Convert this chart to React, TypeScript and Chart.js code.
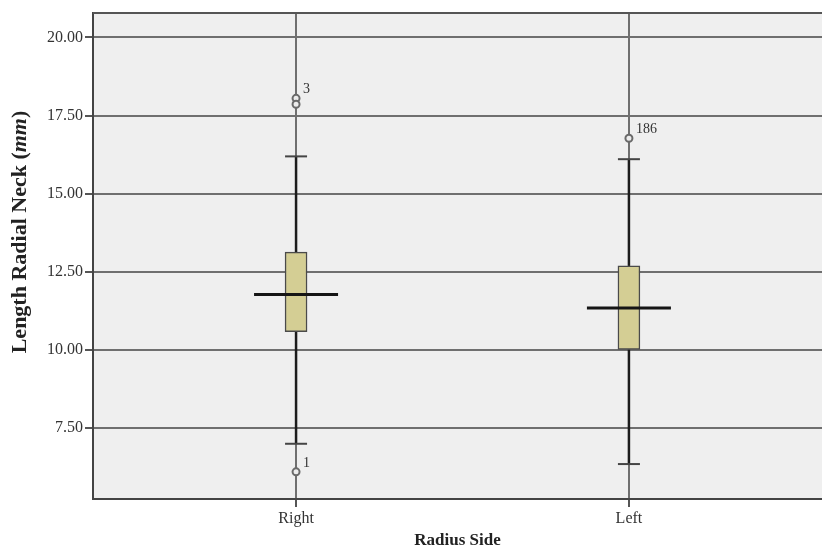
import React, { useEffect, useRef } from 'react';
import { Chart, registerables } from 'chart.js';

Chart.register(...registerables);

// ---- data ----
const categories = ['Right', 'Left'];
const q1Values = [10.57, 10.0];
const medianValues = [11.76, 11.33];
const q3Values = [13.12, 12.68];
const whiskerLowValues = [6.98, 6.33];
const whiskerHighValues = [16.19, 16.1];
const outlierValues = [[18.05, 17.86, 6.08], [16.77]];
const outlierLabels = [['3', '', '1'], ['186']];
const yTickValues = [7.5, 10, 12.5, 15, 17.5, 20];
const yAxisMin = 5.21;
const yAxisMax = 20.785;
const xAxisMin = 0.39;
const xAxisMax = 2.58;

const SERIF = '"Liberation Serif", "Times New Roman", serif';

const bgPlugin = {
  id: 'plotBg',
  beforeDraw(chart: any) {
    const { ctx, chartArea } = chart;
    ctx.save();
    ctx.fillStyle = '#efefef';
    ctx.fillRect(chartArea.left, chartArea.top, chartArea.right - chartArea.left, chartArea.bottom - chartArea.top);
    ctx.restore();
  },
  afterDraw(chart: any) {
    const { ctx, chartArea } = chart;
    ctx.save();
    ctx.strokeStyle = '#555';
    ctx.lineWidth = 2;
    ctx.beginPath();
    ctx.moveTo(chartArea.left, chartArea.top);
    ctx.lineTo(chartArea.right, chartArea.top);
    ctx.stroke();
    ctx.restore();
  },
};

const outlierLabelPlugin = {
  id: 'outlierLabels',
  afterDatasetsDraw(chart: any) {
    const { ctx } = chart;
    const xs = chart.scales.x;
    const ys = chart.scales.y;
    ctx.save();
    ctx.font = `14px ${SERIF}`;
    ctx.fillStyle = '#333';
    ctx.textAlign = 'left';
    ctx.textBaseline = 'middle';
    outlierValues.forEach((vals, i) => {
      vals.forEach((v, j) => {
        const label = outlierLabels[i][j];
        if (!label) return;
        const px = xs.getPixelForValue(i + 1);
        const py = ys.getPixelForValue(v);
        ctx.fillText(label, px + 7, py - 9);
      });
    });
    ctx.restore();
  },
};

const yTitlePlugin = {
  id: 'yTitle',
  afterDraw(chart: any) {
    const { ctx } = chart;
    const parts = [
      { t: 'Length Radial Neck (', f: `bold 22px ${SERIF}` },
      { t: 'mm', f: `italic bold 22px ${SERIF}` },
      { t: ')', f: `bold 22px ${SERIF}` },
    ];
    ctx.save();
    let total = 0;
    const widths = parts.map((p) => {
      ctx.font = p.f;
      const w = ctx.measureText(p.t).width;
      total += w;
      return w;
    });
    ctx.translate(20, 232);
    ctx.rotate(-Math.PI / 2);
    ctx.fillStyle = '#222';
    ctx.textBaseline = 'middle';
    ctx.textAlign = 'left';
    let x = -total / 2;
    parts.forEach((p, i) => {
      ctx.font = p.f;
      ctx.fillText(p.t, x, 0);
      x += widths[i];
    });
    ctx.restore();
  },
};

export default function App() {
  const ref = useRef<HTMLCanvasElement | null>(null);

  useEffect(() => {
    document.body.style.margin = '0';
    if (!ref.current) return;

    const datasets: any[] = [];

    categories.forEach((_, i) => {
      datasets.push({
        type: 'line',
        data: [
          { x: i + 1, y: q3Values[i] },
          { x: i + 1, y: whiskerHighValues[i] },
        ],
        borderColor: '#1c1c1c',
        borderWidth: 2.5,
        pointRadius: 0,
        order: 6,
      });
      datasets.push({
        type: 'line',
        data: [
          { x: i + 1, y: whiskerLowValues[i] },
          { x: i + 1, y: q1Values[i] },
        ],
        borderColor: '#1c1c1c',
        borderWidth: 2.5,
        pointRadius: 0,
        order: 6,
      });
    });

    datasets.push({
      type: 'bar',
      data: categories.map((_, i) => ({ x: i + 1, y: [q1Values[i], q3Values[i]] })),
      backgroundColor: '#d4ce94',
      borderColor: '#4a4a4a',
      borderWidth: 1.5,
      borderSkipped: false,
      barThickness: 22,
      order: 5,
    });

    datasets.push({
      type: 'line',
      showLine: false,
      data: categories.map((_, i) => ({ x: i + 1, y: medianValues[i] })),
      pointStyle: 'line',
      pointRadius: 42,
      pointBorderWidth: 3,
      pointBorderColor: '#151515',
      order: 4,
    });

    datasets.push({
      type: 'line',
      showLine: false,
      data: categories.flatMap((_, i) => [
        { x: i + 1, y: whiskerLowValues[i] },
        { x: i + 1, y: whiskerHighValues[i] },
      ]),
      pointStyle: 'line',
      pointRadius: 11,
      pointBorderWidth: 2,
      pointBorderColor: '#444',
      order: 3,
    });

    datasets.push({
      type: 'line',
      showLine: false,
      data: outlierValues.flatMap((vals, i) => vals.map((v) => ({ x: i + 1, y: v }))),
      pointStyle: 'circle',
      pointRadius: 3.5,
      pointBorderWidth: 2,
      pointBorderColor: '#6a6a6a',
      pointBackgroundColor: '#ececec',
      order: 2,
    });

    const chart = new Chart(ref.current, {
      type: 'bar',
      data: { datasets },
      plugins: [bgPlugin, outlierLabelPlugin, yTitlePlugin],
      options: {
        animation: false,
        responsive: false,
        events: [],
        layout: { autoPadding: false, padding: { top: 13, left: 0, right: 0, bottom: 0 } },
        plugins: { legend: { display: false }, tooltip: { enabled: false } },
        scales: {
          x: {
            type: 'linear',
            min: xAxisMin,
            max: xAxisMax,
            offset: false,
            afterBuildTicks: (scale: any) => {
              scale.ticks = categories.map((_, i) => ({ value: i + 1 }));
            },
            afterFit: (scale: any) => {
              scale.height = 51;
            },
            grid: {
              offset: false,
              color: '#6f6f6f',
              lineWidth: 2,
              tickLength: 8,
              tickColor: '#555',
            },
            border: { display: true, color: '#444', width: 2 },
            ticks: {
              padding: 2,
              color: '#333',
              font: { family: SERIF, size: 16 },
              callback: (v: any) => categories[Math.round(Number(v)) - 1] ?? '',
            },
            title: {
              display: true,
              text: 'Radius Side',
              color: '#222',
              font: { family: SERIF, size: 17, weight: 'bold', lineHeight: 1.1 },
              padding: { top: 0, bottom: 0 },
            },
          },
          y: {
            type: 'linear',
            min: yAxisMin,
            max: yAxisMax,
            afterBuildTicks: (scale: any) => {
              scale.ticks = yTickValues.map((v) => ({ value: v }));
            },
            afterFit: (scale: any) => {
              scale.width = 93;
            },
            grid: {
              color: '#6f6f6f',
              lineWidth: 2,
              tickLength: 8,
              tickColor: '#555',
            },
            border: { display: true, color: '#444', width: 2 },
            ticks: {
              padding: 2,
              color: '#333',
              font: { family: SERIF, size: 16 },
              callback: (v: any) => Number(v).toFixed(2),
            },
          },
        },
      } as any,
    });

    return () => chart.destroy();
  }, []);

  return (
    <div style={{ width: 822, height: 550 }}>
      <canvas ref={ref} width={822} height={550} />
    </div>
  );
}
